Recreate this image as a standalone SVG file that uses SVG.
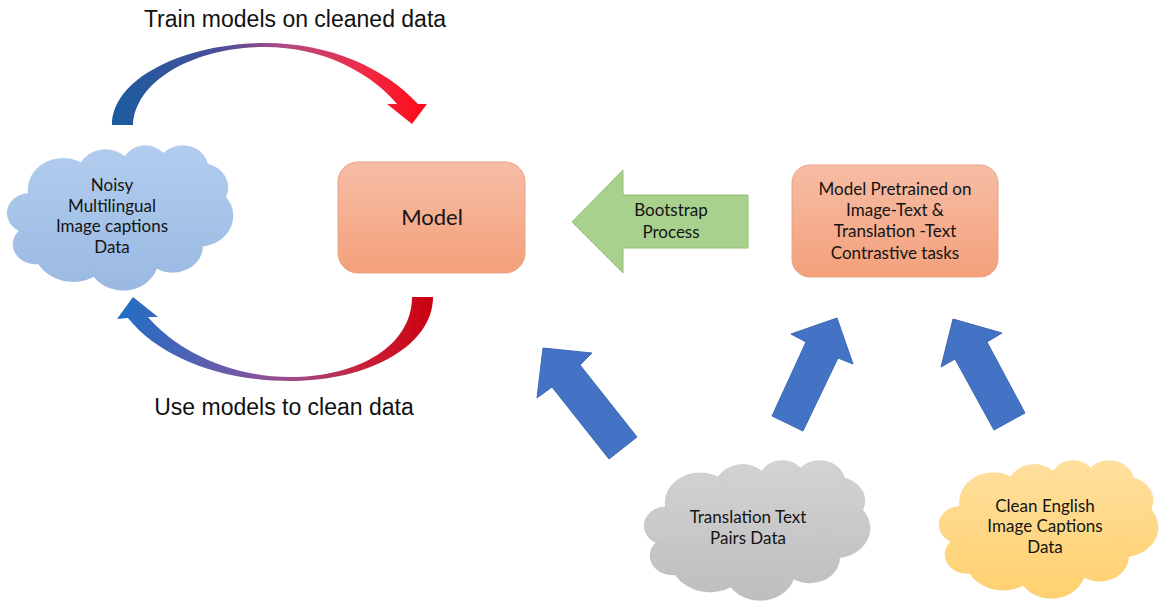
<svg xmlns="http://www.w3.org/2000/svg" xmlns:xlink="http://www.w3.org/1999/xlink" width="1159" height="601" viewBox="0 0 1159 601">
<style>
.lbl{font-family:Lato,"Liberation Sans",sans-serif;font-size:17px;fill:#141414;text-anchor:middle}
.big{font-family:"Liberation Sans",Arial,sans-serif;font-size:23px;fill:#111;text-anchor:middle}
.cloudin{fill:none;stroke-width:1;vector-effect:non-scaling-stroke}
.box{stroke:#e9a284;stroke-width:1}
.barrow{fill:#4472c4;stroke:#3e68b4;stroke-width:1}
</style>
<defs>
<path id="cloud" d="M90.3,332.6 A156.3,212.7 0 0 1 324.2,120.4 A123.5,168.2 0 0 1 519.8,79.4 A101.0,137.6 0 0 1 690.6,57.4 A112.4,152.7 0 0 1 887.0,129.1 A123.5,168.4 0 0 1 968.1,357.9 A156.8,213.4 0 0 1 865.8,699.1 A133.9,182.1 0 0 1 661.0,852.1 A156.3,213.3 0 0 1 381.5,908.9 A178.7,244.1 0 0 1 134.4,821.1 A100.9,137.0 0 0 1 49.0,591.5 A100.6,137.6 0 0 1 90.3,332.6 Z"/>
<path id="cloudInner" d="M108.6,606.0 A100.6,137.6 0 0 1 50.0,587.5 M160.4,807.9 A100.9,137.0 0 0 1 134.7,816.7 M381.4,904.9 A156.3,213.3 0 0 1 365.9,864.5 M667.3,804.4 A156.3,213.3 0 0 1 661.1,848.6 M790.0,531.3 A133.9,182.1 0 0 1 865.3,696.5 M967.5,355.4 A123.5,168.4 0 0 1 934.0,417.4 M887.1,125.6 A112.4,152.7 0 0 1 888.9,154.9 M673.1,91.5 A112.4,152.7 0 0 1 690.3,54.1 M512.5,109.3 A101.0,137.6 0 0 1 520.8,77.1 M324.1,120.2 A156.3,212.7 0 0 1 354.1,151.4 M95.5,365.5 A156.3,212.7 0 0 1 90.3,332.7"/>
<linearGradient id="gBlue" x1="0" y1="0" x2="0" y2="1"><stop offset="0" stop-color="#b2cdee"/><stop offset="1" stop-color="#9ab9e2"/></linearGradient>
<linearGradient id="gGray" x1="0" y1="0" x2="0" y2="1"><stop offset="0" stop-color="#d3d3d3"/><stop offset="1" stop-color="#bebebe"/></linearGradient>
<linearGradient id="gYellow" x1="0" y1="0" x2="0" y2="1"><stop offset="0" stop-color="#ffe09e"/><stop offset="1" stop-color="#ffd06e"/></linearGradient>
<linearGradient id="gBox" x1="0" y1="0" x2="0" y2="1"><stop offset="0" stop-color="#f6bda5"/><stop offset="1" stop-color="#f4a07b"/></linearGradient>
<linearGradient id="gTop" gradientUnits="userSpaceOnUse" x1="112" y1="0" x2="427" y2="0"><stop offset="0" stop-color="#1a5c9e"/><stop offset="0.35" stop-color="#4a4e9a"/><stop offset="0.55" stop-color="#b04a80"/><stop offset="0.78" stop-color="#ec2e4a"/><stop offset="1" stop-color="#ff0a14"/></linearGradient>
<linearGradient id="gBot" gradientUnits="userSpaceOnUse" x1="117" y1="0" x2="433" y2="0"><stop offset="0" stop-color="#1e6fc6"/><stop offset="0.35" stop-color="#6a5aaa"/><stop offset="0.55" stop-color="#a04a8a"/><stop offset="0.78" stop-color="#c8203a"/><stop offset="1" stop-color="#cc0010"/></linearGradient>
</defs>
<rect width="1159" height="601" fill="#ffffff"/>

<g id="connectors">
<path id="train-arc" d="M112,125 C112,78 185,43 265,43 C330,43 385,68 418,104 L427,104 L412,124 L387,104 L397,104 C370,72 322,47 265,47 C195,47 135,80 133,125 Z" fill="url(#gTop)"/>
<path id="clean-arc" d="M412,297 L433,297 C433,345 370,381 290,381 C222,381 160,358 128,318 L117,319 L133,297 L158,317 L148,317 C178,352 232,377 290,377 C360,377 412,345 412,297 Z" fill="url(#gBot)"/>
<g id="bootstrap-arrow">
<polygon points="572,222 623,170 623,195 748,195 748,248 623,248 623,273" fill="#a9d18e" stroke="#93c074" stroke-width="1"/>
<text class="lbl" x="671" y="216">Bootstrap</text>
<text class="lbl" x="671" y="238">Process</text>
</g>
<polygon id="arrow-a" class="barrow" points="543,348 592,353 580,365 637,437 609,459 552,387 537,398"/>
<polygon id="arrow-b" class="barrow" points="837,318 853,364 838,358 803,431 772,416 806,342 791,334"/>
<polygon id="arrow-c" class="barrow" points="953,319 1002,333 987,342 1025,413 994,430 955,359 941,367"/>
</g>

<text id="train-label" class="big" x="295" y="27">Train models on cleaned data</text>
<text id="clean-label" class="big" x="284" y="415">Use models to clean data</text>

<g id="noisy-cloud">
<g transform="translate(8,145) scale(0.225,0.145)">
<use xlink:href="#cloud" fill="url(#gBlue)" stroke="#8cb0dc" stroke-width="1" vector-effect="non-scaling-stroke"/>
<use xlink:href="#cloudInner" class="cloudin" stroke="#8cb0dc"/>
</g>
<text class="lbl" x="112" y="191">Noisy</text>
<text class="lbl" x="112" y="212">Multilingual</text>
<text class="lbl" x="112" y="232">Image captions</text>
<text class="lbl" x="112" y="253">Data</text>
</g>

<g id="model">
<rect class="box" x="338" y="162" width="187" height="111" rx="20" fill="url(#gBox)"/>
<text class="lbl" x="432" y="225" style="font-size:22px">Model</text>
</g>

<g id="pretrained">
<rect class="box" x="792" y="165" width="206" height="112" rx="18" fill="url(#gBox)"/>
<text class="lbl" x="895" y="195">Model Pretrained on</text>
<text class="lbl" x="895" y="216">Image-Text &amp;</text>
<text class="lbl" x="895" y="237">Translation -Text</text>
<text class="lbl" x="895" y="259">Contrastive tasks</text>
</g>

<g id="translation-cloud">
<g transform="translate(645,460) scale(0.225,0.14)">
<use xlink:href="#cloud" fill="url(#gGray)" stroke="#a8a8a8" stroke-width="1" vector-effect="non-scaling-stroke"/>
<use xlink:href="#cloudInner" class="cloudin" stroke="#a8a8a8"/>
</g>
<text class="lbl" x="748" y="523">Translation Text</text>
<text class="lbl" x="748" y="544">Pairs Data</text>
</g>

<g id="english-cloud">
<g transform="translate(940,460) scale(0.218,0.138)">
<use xlink:href="#cloud" fill="url(#gYellow)" stroke="#f0c060" stroke-width="1" vector-effect="non-scaling-stroke"/>
<use xlink:href="#cloudInner" class="cloudin" stroke="#f0c060"/>
</g>
<text class="lbl" x="1045" y="512">Clean English</text>
<text class="lbl" x="1045" y="532">Image Captions</text>
<text class="lbl" x="1045" y="553">Data</text>
</g>
</svg>
